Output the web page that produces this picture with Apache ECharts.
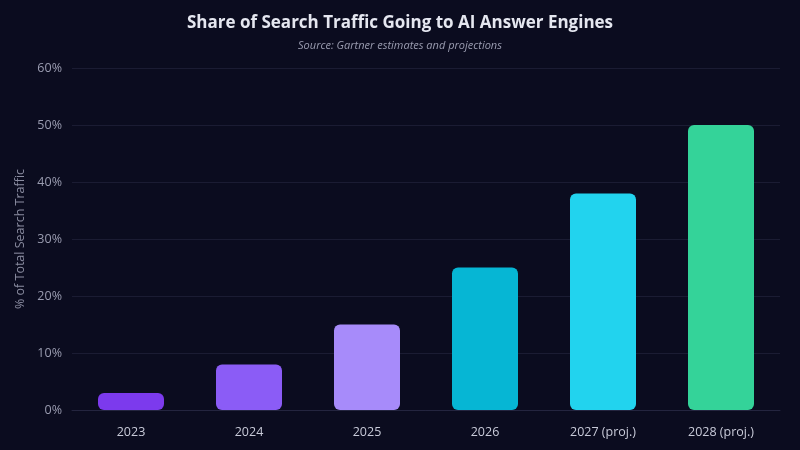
<!DOCTYPE html>
<html>
<head>
<meta charset="utf-8">
<script src="https://cdn.jsdelivr.net/npm/echarts@6/dist/echarts.min.js"></script>
<style>
  html, body { margin: 0; padding: 0; background: #0b0c1f; }
  #main { width: 800px; height: 450px; }
</style>
</head>
<body>
<div id="main"></div>
<script>
// 年份 / 数值
var years = ['2023', '2024', '2025', '2026', '2027 (proj.)', '2028 (proj.)'];
var shares = [3, 8, 15, 25, 38, 50];
var barColors = ['#7c3aed', '#8b5cf6', '#a78bfa', '#06b6d4', '#22d3ee', '#34d399'];

var chart = echarts.init(document.getElementById('main'));
var option = {
    backgroundColor: '#0b0c1f',
    title: {
        text: 'Share of Search Traffic Going to AI Answer Engines',
        subtext: 'Source: Gartner estimates and projections',
        left: 'center',
        top: 10,
        itemGap: 8,
        textStyle: {
            fontFamily: 'Open Sans',
            fontSize: 17,
            fontWeight: 'bold',
            color: '#e5e7f0'
        },
        subtextStyle: {
            fontFamily: 'Open Sans',
            fontSize: 11,
            fontStyle: 'italic',
            color: '#9a9cb0'
        }
    },
    grid: {
        left: 72,
        right: 20,
        top: 68,
        bottom: 40
    },
    xAxis: {
        type: 'category',
        data: years,
        axisTick: { show: false },
        axisLine: { lineStyle: { color: '#24253f' } },
        axisLabel: {
            color: '#c8cad8',
            fontFamily: 'Open Sans',
            fontSize: 12.5,
            margin: 16
        }
    },
    yAxis: {
        type: 'value',
        min: 0,
        max: 60,
        interval: 10,
        name: '% of Total Search Traffic',
        nameLocation: 'middle',
        nameGap: 42,
        nameTextStyle: {
            color: '#8a8ca0',
            fontFamily: 'Open Sans',
            fontSize: 12.5
        },
        axisLabel: {
            formatter: '{value}%',
            color: '#9a9cb0',
            fontFamily: 'Open Sans',
            fontSize: 12.5,
            margin: 10
        },
        splitLine: { lineStyle: { color: '#1b1c33' } },
        axisLine: { show: false },
        axisTick: { show: false }
    },
    series: [{
        type: 'bar',
        barWidth: 66,
        data: shares.map(function (v, i) {
            return { value: v, itemStyle: { color: barColors[i] } };
        }),
        itemStyle: { borderRadius: 6 }
    }]
};
chart.setOption(option);
</script>
</body>
</html>
